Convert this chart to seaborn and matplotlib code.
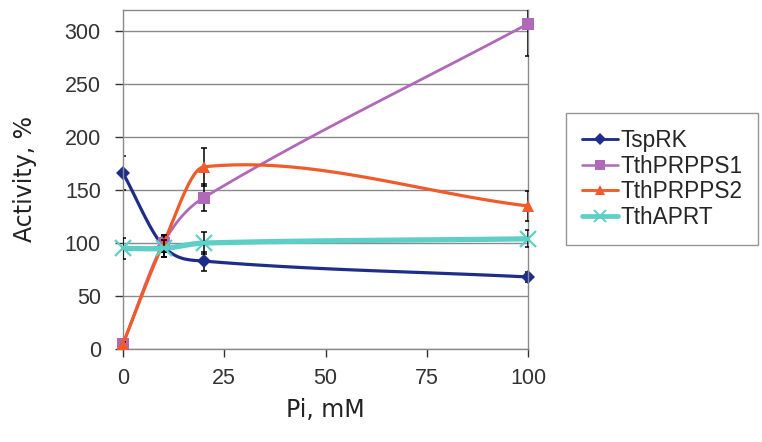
import numpy as np
import pandas as pd
import matplotlib
matplotlib.use("Agg")
import matplotlib.pyplot as plt
from matplotlib.lines import Line2D
import seaborn as sns

# ---- data ----
pi_mM = [0, 10, 20, 100]
series_names = ["TspRK", "TthPRPPS1", "TthPRPPS2", "TthAPRT"]
tsprk = [166, 97, 83, 68]
tsprk_err = [16, 10, 9, 5]
prpps1 = [5, 100, 143, 307]
prpps1_err = [2, 8, 13, 30]
prpps2 = [5, 100, 172, 135]
prpps2_err = [2, 8, 18, 14]
aprt = [95, 95, 100, 104]
aprt_err = [10, 8, 10, 8]
x_ticks = [0, 25, 50, 75, 100]
y_ticks = [0, 50, 100, 150, 200, 250, 300]

values = [tsprk, prpps1, prpps2, aprt]
errors = [tsprk_err, prpps1_err, prpps2_err, aprt_err]
colors = ["#1f2d8a", "#b068b8", "#f15a29", "#5ecfc6"]
markers = ["D", "s", "^", "x"]
msizes = [7, 9, 9, 11]
lwidths = [2.3, 2.0, 2.3, 3.8]

sns.set_style("white")
plt.rcParams["font.family"] = ["Liberation Sans", "DejaVu Sans"]

fig = plt.figure(figsize=(7.62, 4.42), dpi=100)
ax = fig.add_axes([123 / 762, 1 - 349 / 442, (528 - 123) / 762, (349 - 10) / 442])

XMIN, XMAX, YMIN, YMAX = 0, 100, 0, 320


def smooth(xs, ys, n=40):
    # smoothed line through the data (cubic Bezier, x-monotone tangents)
    xs = np.asarray(xs, float)
    ys = np.asarray(ys, float)
    P = np.column_stack([xs, ys])
    out = []
    N = len(P)
    for i in range(N - 1):
        p1, p2 = P[i], P[i + 1]
        dx = xs[i + 1] - xs[i]
        if i > 0:
            m1 = P[i + 1] - P[i - 1]
            c1 = p1 + m1 * (dx / (xs[i + 1] - xs[i - 1])) / 3.0
        else:
            c1 = p1 + (p2 - p1) / 3.0
        if i + 2 < N:
            m2 = P[i + 2] - P[i]
            c2 = p2 - m2 * (dx / (xs[i + 2] - xs[i])) / 3.0
        else:
            c2 = p2 - (p2 - p1) / 3.0
        t = np.linspace(0, 1, n)[:, None]
        seg = (1 - t) ** 3 * p1 + 3 * (1 - t) ** 2 * t * c1 + 3 * (1 - t) * t ** 2 * c2 + t ** 3 * p2
        out.append(seg if i == 0 else seg[1:])
    out = np.vstack(out)
    return out[:, 0], out[:, 1]


for yv in y_ticks:
    ax.axhline(yv, color="#8a8a8a", lw=1.0, zorder=0)

handles = []
for k, name in enumerate(series_names):
    cx, cy = smooth(pi_mM, values[k])
    df = pd.DataFrame({"x": cx, "y": cy})
    sns.lineplot(data=df, x="x", y="y", sort=False, ax=ax, color=colors[k],
                 lw=lwidths[k], zorder=2 + k, estimator=None)
    ax.errorbar(pi_mM, values[k], yerr=errors[k], fmt="none", ecolor="black",
                elinewidth=1.1, capsize=2.5, capthick=1.1, zorder=2 + k, clip_on=True)
    if markers[k] == "x":
        ax.plot(pi_mM, values[k], linestyle="none", marker="x", ms=msizes[k],
                mew=1.6, color=colors[k], zorder=2.5 + k, clip_on=False)
    else:
        ax.plot(pi_mM, values[k], linestyle="none", marker=markers[k], ms=msizes[k],
                mew=0, color=colors[k], zorder=2.5 + k, clip_on=False)
    handles.append(Line2D([0], [0], color=colors[k], lw=lwidths[k] * 0.9, marker=markers[k],
                          ms=msizes[k] * 0.85, mew=1.4 if markers[k] == "x" else 0,
                          label=name))

ax.set_xlim(XMIN, XMAX)
ax.set_ylim(YMIN, YMAX)
ax.set_xticks(x_ticks)
ax.set_yticks(y_ticks)
ax.tick_params(axis="both", labelsize=15.5, colors="#333333", length=6, width=1,
               direction="out", bottom=True, left=True)
ax.tick_params(axis="y", pad=10)
ax.tick_params(axis="x", pad=8)
for s in ax.spines.values():
    s.set_color("#8a8a8a")
    s.set_linewidth(1.0)

ax.set_xlabel("Pi, mM", fontsize=17, color="#222222", labelpad=6, family="DejaVu Sans")
ax.set_ylabel("Activity, %", fontsize=17, color="#222222", labelpad=20, family="DejaVu Sans")

leg = fig.legend(handles=handles, loc="upper left",
                 bbox_to_anchor=(566 / 762, 1 - 113 / 442), frameon=True,
                 fancybox=False, edgecolor="#7a7a7a", fontsize=16.3,
                 handlelength=1.6, handletextpad=0.1, labelspacing=0.12,
                 borderpad=0.7, borderaxespad=0)
leg.get_frame().set_linewidth(1.0)

fig.savefig("out.png", dpi=100)
